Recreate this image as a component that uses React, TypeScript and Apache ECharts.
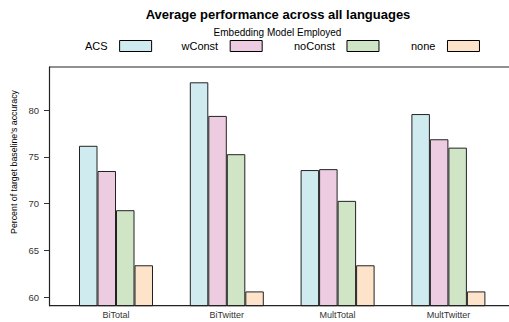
import React, { useEffect, useRef } from "react";
import * as echarts from "echarts";

const categories = ["BiTotal", "BiTwitter", "MultTotal", "MultTwitter"];
const seriesNames = ["ACS", "wConst", "noConst", "none"];
const acs = [76.2, 83.0, 73.6, 79.6];
const wConst = [73.5, 79.4, 73.7, 76.9];
const noConst = [69.3, 75.3, 70.3, 76.0];
const none = [63.4, 60.6, 63.4, 60.6];
const yTicks = [60, 65, 70, 75, 80];
const colors = ["#CFEBEF", "#EDCCE2", "#CFE5C6", "#FDE3C9"];
const legendLeft = [80, 176.5, 289, 406];

export default function App() {
  const ref = useRef<HTMLDivElement>(null);
  useEffect(() => {
    document.body.style.margin = "0";
    const chart = echarts.init(ref.current!, null, { renderer: "svg" });
    const values = [acs, wConst, noConst, none];
    const font = "'Liberation Sans', Arial, sans-serif";
    const top = 67;
    const bottom = 305.7;
    chart.setOption({
      animation: false,
      backgroundColor: "#ffffff",
      textStyle: { fontFamily: font },
      title: {
        text: "Average performance across all languages",
        left: 273,
        textAlign: "center",
        top: 3,
        textStyle: { fontSize: 13, fontWeight: "bold", color: "#000", fontFamily: font },
      },
      legend: seriesNames.map((name, i) => ({
        data: [name],
        left: legendLeft[i],
        top: 35,
        align: "right",
        itemWidth: 32,
        itemHeight: 11,
        icon: "rect",
        textStyle: { fontSize: 11, color: "#000", fontFamily: font, padding: [0, 7, 0, 0] },
        itemStyle: { borderColor: "#000", borderWidth: 1 },
      })),
      grid: { left: 60.6, top, width: 443.2, height: bottom - top },
      xAxis: {
        type: "category",
        data: categories,
        axisLine: { show: false },
        axisTick: { show: false },
        axisLabel: { fontSize: 9, color: "#333", margin: 5, fontFamily: font },
      },
      yAxis: {
        type: "value",
        min: 59.07,
        max: 84.64,
        offset: 11.6,
        splitLine: { show: false },
        axisLine: { show: true, lineStyle: { color: "#222", width: 1.2 } },
        axisTick: { show: true, length: 5, customValues: yTicks, lineStyle: { color: "#333" } },
        axisLabel: { customValues: yTicks, fontSize: 9.5, color: "#333", margin: 10, fontFamily: font },
      },
      series: seriesNames.map((name, i) => ({
        name,
        type: "bar",
        data: values[i],
        barWidth: 18.5,
        barGap: "0%",
        itemStyle: { color: colors[i], borderColor: "#222", borderWidth: 1 },
      })),
      graphic: {
        elements: [
          {
            type: "rect",
            left: 49,
            top: top - 0.6,
            shape: { width: 460, height: 1.2 },
            style: { fill: "#222" },
            z: 10,
            silent: true,
          },
          {
            type: "rect",
            left: 49,
            top: bottom - 0.6,
            shape: { width: 460, height: 1.2 },
            style: { fill: "#222" },
            z: 10,
            silent: true,
          },
          {
            type: "text",
            x: 277.5,
            y: 32.5,
            style: {
              text: "Embedding Model Employed",
              fontSize: 10,
              fill: "#000",
              fontFamily: font,
              textAlign: "center",
              textVerticalAlign: "middle",
            },
          },
          {
            type: "text",
            x: 14,
            y: 162,
            rotation: Math.PI / 2,
            style: {
              text: "Percent of target baseline's accuracy",
              fontSize: 8.8,
              fill: "#000",
              fontFamily: font,
              textAlign: "center",
              textVerticalAlign: "middle",
            },
          },
        ],
      },
    });
    return () => chart.dispose();
  }, []);
  return <div ref={ref} style={{ width: 509, height: 322 }} />;
}
